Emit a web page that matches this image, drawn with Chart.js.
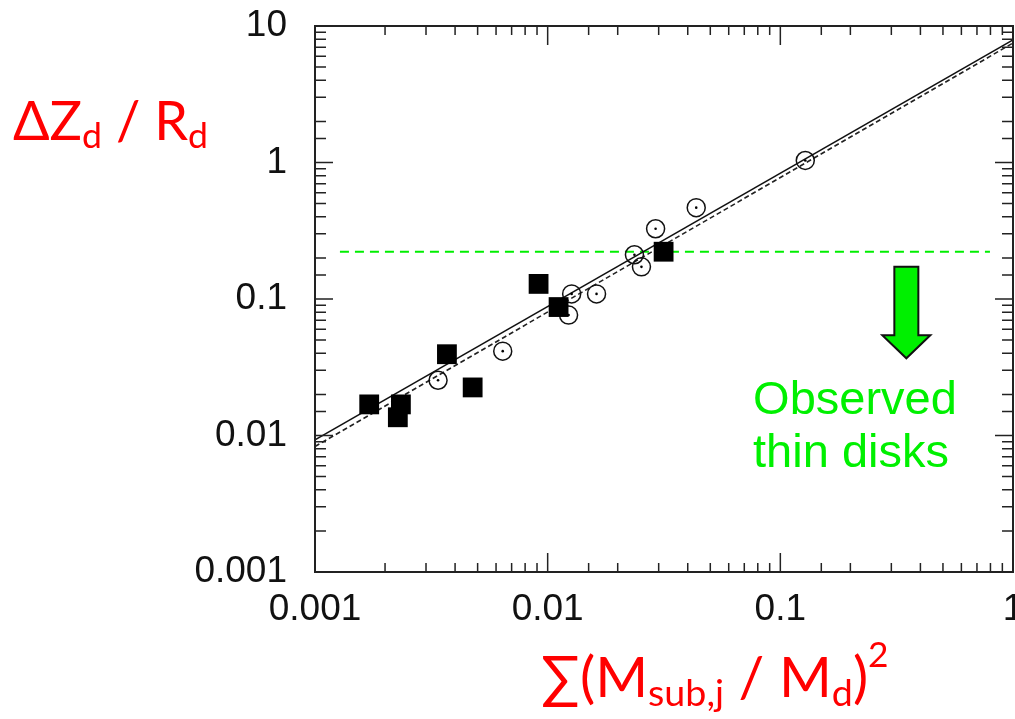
<!DOCTYPE html>
<html>
<head>
<meta charset="utf-8">
<script src="https://cdn.jsdelivr.net/npm/chart.js@4.4.0/dist/chart.umd.min.js"></script>
<style>
  html, body { margin: 0; padding: 0; background: #fff; overflow: hidden; }
  #wrap { width: 1040px; height: 719px; }
</style>
</head>
<body>
<div id="wrap"><canvas id="plot"></canvas></div>
<script>
// filled squares
const squareX = [0.00171, 0.00227, 0.00234, 0.00369, 0.00476, 0.00914, 0.01114, 0.0315];
const squareY = [0.0169, 0.0136, 0.0169, 0.0394, 0.0225, 0.129, 0.0873, 0.222];

// open circles (with a dot in the middle)
const circleX = [0.00338, 0.00641, 0.01268, 0.01230, 0.01622, 0.0236, 0.0253, 0.0291, 0.0435, 0.128];
const circleY = [0.0254, 0.0415, 0.109, 0.0762, 0.109, 0.211, 0.172, 0.327, 0.467, 1.035];

// two fit lines
const fitX = [0.001, 1];
const fitSolidY = [0.0093, 7.9];
const fitDashedY = [0.0083, 7.5];

// green "thin disk" limit
const limitX = [0.00128, 0.796];
const limitY = [0.222, 0.222];

// arrow: x, top of shaft, bottom of shaft, tip
const arrowX = 0.348;
const arrowY = [0.172, 0.0543, 0.0368];

const xTickLabels = ['0.001', '0.01', '0.1', '1'];
const yTickLabels = ['0.001', '0.01', '0.1', '1', '10'];

const toPts = (xs, ys) => xs.map((x, i) => ({ x: x, y: ys[i] }));

function decadeLabel(v, labels) {
    const e = Math.log10(v);
    if (Math.abs(e - Math.round(e)) > 1e-6) return '';
    const s = String(Math.pow(10, Math.round(e)));
    return labels.includes(s) ? s : '';
}

function drawRich(ctx, parts, x, base, size, family) {
    parts.forEach(p => {
        let fs = size, dy = 0;
        if (p.sub) { fs = size * 0.66; dy = size * 0.15; }
        if (p.sup) { fs = size * 0.62; dy = -size * 0.52; }
        ctx.font = fs + 'px ' + family;
        ctx.fillText(p.t, x, base + dy);
        x += ctx.measureText(p.t).width;
    });
}

const framePlugin = {
    id: 'frame',
    afterDatasetsDraw(chart) {
        const ctx = chart.ctx;
        const a = chart.chartArea;
        const xs = chart.scales.x, ys = chart.scales.y;
        const all = ['0.001', '0.01', '0.1', '1', '10'];
        ctx.save();
        ctx.strokeStyle = '#222';
        ctx.lineWidth = 2;
        ctx.strokeRect(a.left, a.top, a.right - a.left, a.bottom - a.top);

        ctx.lineWidth = 1.5;
        ctx.beginPath();
        xs.ticks.forEach(t => {
            const px = xs.getPixelForValue(t.value);
            const len = decadeLabel(t.value, all) ? 19 : 9;
            ctx.moveTo(px, a.bottom); ctx.lineTo(px, a.bottom - len);
            ctx.moveTo(px, a.top); ctx.lineTo(px, a.top + len);
        });
        ys.ticks.forEach(t => {
            const py = ys.getPixelForValue(t.value);
            const len = decadeLabel(t.value, all) ? 18 : 11;
            ctx.moveTo(a.left, py); ctx.lineTo(a.left + len, py);
            ctx.moveTo(a.right, py); ctx.lineTo(a.right - len, py);
        });
        ctx.stroke();

        // green arrow
        const ax = xs.getPixelForValue(arrowX);
        const y0 = ys.getPixelForValue(arrowY[0]);
        const y1 = ys.getPixelForValue(arrowY[1]);
        const y2 = ys.getPixelForValue(arrowY[2]);
        ctx.beginPath();
        ctx.moveTo(ax - 12, y0);
        ctx.lineTo(ax + 12, y0);
        ctx.lineTo(ax + 12, y1);
        ctx.lineTo(ax + 24, y1);
        ctx.lineTo(ax, y2);
        ctx.lineTo(ax - 24, y1);
        ctx.lineTo(ax - 12, y1);
        ctx.closePath();
        ctx.fillStyle = '#00f000';
        ctx.fill();
        ctx.strokeStyle = '#111';
        ctx.lineWidth = 2;
        ctx.stroke();

        // annotation
        ctx.fillStyle = '#00f000';
        ctx.font = '47px "Liberation Sans", Arial, sans-serif';
        ctx.textAlign = 'center';
        ctx.textBaseline = 'alphabetic';
        ctx.fillText('Observed', 855, 414);
        ctx.fillText('thin disks', 851, 467);

        // axis titles
        ctx.fillStyle = '#ff0000';
        ctx.textAlign = 'left';
        const fam = 'Lato, "Noto Sans", "DejaVu Sans", sans-serif';
        drawRich(ctx, [
            { t: '\u0394Z' }, { t: 'd', sub: true }, { t: ' / R' }, { t: 'd', sub: true }
        ], 13, 140, 54, fam);
        drawRich(ctx, [
            { t: '\u2211(M' }, { t: 'sub,j', sub: true }, { t: ' / M' }, { t: 'd', sub: true },
            { t: ')' }, { t: '2', sup: true }
        ], 541, 697, 57, fam);
        ctx.restore();
    }
};

const tickFont = { family: '"Liberation Sans", Arial, sans-serif', size: 37 };

new Chart(document.getElementById('plot'), {
    type: 'scatter',
    data: {
        datasets: [
            {
                label: 'filled',
                data: toPts(squareX, squareY),
                pointStyle: 'rect',
                pointRadius: 14,
                backgroundColor: '#000',
                borderColor: '#000',
                borderWidth: 0
            },
            {
                label: 'centre dots',
                data: toPts(circleX, circleY),
                pointStyle: 'circle',
                pointRadius: 1.3,
                backgroundColor: '#000',
                borderWidth: 0
            },
            {
                label: 'open',
                data: toPts(circleX, circleY),
                pointStyle: 'circle',
                pointRadius: 9,
                backgroundColor: 'rgba(255,255,255,0)',
                borderColor: '#111',
                borderWidth: 1.5
            },
            {
                label: 'fit solid',
                data: toPts(fitX, fitSolidY),
                showLine: true,
                pointRadius: 0,
                borderColor: '#111',
                borderWidth: 1.5
            },
            {
                label: 'fit dashed',
                data: toPts(fitX, fitDashedY),
                showLine: true,
                pointRadius: 0,
                borderColor: '#222',
                borderWidth: 1.6,
                borderDash: [5, 3]
            },
            {
                label: 'thin disk limit',
                data: toPts(limitX, limitY),
                showLine: true,
                pointRadius: 0,
                borderColor: '#00ee00',
                borderWidth: 2,
                borderDash: [9, 6]
            }
        ]
    },
    options: {
        responsive: true,
        maintainAspectRatio: false,
        animation: false,
        layout: { padding: { left: 0, top: 26, right: 27, bottom: 0 } },
        plugins: { legend: { display: false }, tooltip: { enabled: false } },
        scales: {
            x: {
                type: 'logarithmic',
                min: 0.001,
                max: 1,
                grid: { display: false, drawTicks: false },
                border: { display: false },
                ticks: {
                    autoSkip: false,
                    maxRotation: 0,
                    padding: 16,
                    color: '#111',
                    font: tickFont,
                    callback: v => decadeLabel(v, xTickLabels)
                },
                afterFit: s => { s.height = 147; s.paddingLeft = 0; s.paddingRight = 0; }
            },
            y: {
                type: 'logarithmic',
                min: 0.001,
                max: 10,
                grid: { display: false, drawTicks: false },
                border: { display: false },
                ticks: {
                    autoSkip: false,
                    padding: 28,
                    color: '#111',
                    font: tickFont,
                    callback: v => decadeLabel(v, yTickLabels)
                },
                afterFit: s => { s.width = 315; s.paddingTop = 0; s.paddingBottom = 0; }
            }
        }
    },
    plugins: [framePlugin]
});
</script>
</body>
</html>
